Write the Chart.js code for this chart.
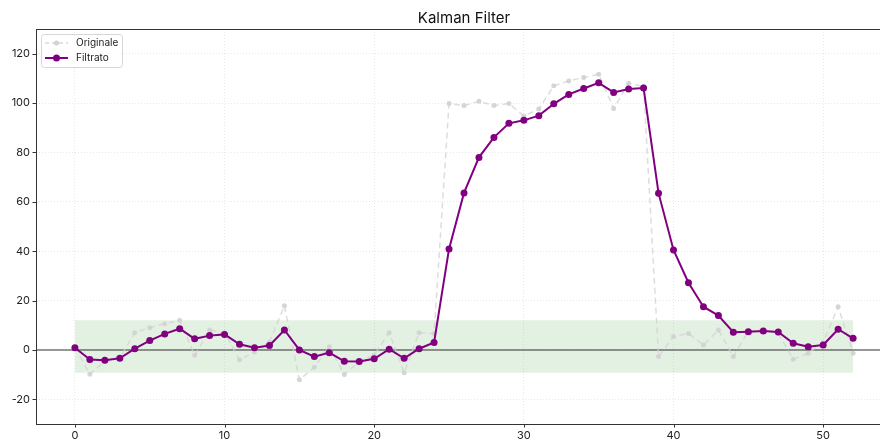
<!DOCTYPE html>
<html>
<head>
<meta charset="utf-8">
<script src="https://cdn.jsdelivr.net/npm/chart.js@4/dist/chart.umd.min.js"></script>
<style>
  html, body { margin: 0; padding: 0; overflow: hidden; background: #fff; }
  #wrap { width: 928px; height: 441px; }
</style>
</head>
<body>
<div id="wrap"><canvas id="canva"></canvas></div>
<script>
// step index
var steps = [0, 1, 2, 3, 4, 5, 6, 7, 8, 9, 10, 11, 12, 13, 14, 15, 16, 17, 18, 19, 20,
  21, 22, 23, 24, 25, 26, 27, 28, 29, 30, 31, 32, 33, 34, 35, 36, 37, 38, 39, 40,
  41, 42, 43, 44, 45, 46, 47, 48, 49, 50, 51, 52];
// measured signal
var originale = [1, -9.8, -4.6, -3.2, 7.0, 9.0, 10.6, 12.0, -2.2, 8.1, 7.0, -4.0, -0.8, 3.1,
  17.9, -12.1, -7.0, 1.3, -9.9, -4.8, -2.0, 7.0, -9.2, 7.0, 6.7, 99.8, 99.0, 100.7, 99.0,
  99.8, 94.7, 97.6, 107.0, 108.9, 110.4, 111.7, 97.8, 108.0, 106.7, -2.7, 5.4, 6.7, 2.0,
  8.1, -2.7, 7.7, 8.1, 6.7, -3.8, -1.3, 3.0, 17.5, -1.3];
// kalman output
var filtrato = [0.9, -3.9, -4.2, -3.4, 0.5, 3.8, 6.5, 8.6, 4.5, 5.8, 6.3, 2.3, 0.9, 1.8,
  8.1, 0.0, -2.7, -1.1, -4.6, -4.7, -3.6, 0.3, -3.4, 0.5, 3.0, 40.9, 63.6, 78.0, 86.1,
  91.8, 93.0, 94.9, 99.7, 103.5, 105.9, 108.2, 104.3, 105.7, 106.1, 63.5, 40.5, 27.2, 17.5,
  13.9, 7.2, 7.4, 7.7, 7.3, 2.7, 1.3, 2.0, 8.4, 4.7];
// tolerance band
var bandX = [0, 52];
var bandTop = 12;
var bandBottom = -9.2;
var xTicks = [0, 10, 20, 30, 40, 50];
var yTicks = [-20, 0, 20, 40, 60, 80, 100, 120];

var fontFam = "Inter, 'DejaVu Sans', sans-serif";

function pts(ys) {
  return ys.map(function (v, i) { return {x: steps[i], y: v}; });
}

var mplStuff = {
  id: 'mplStuff',
  afterDraw: function (chart) {
    var c = chart.ctx, a = chart.chartArea;
    var xs = chart.scales.x, ys = chart.scales.y;
    c.save();
    // frame
    c.strokeStyle = '#333';
    c.lineWidth = 1;
    c.strokeRect(a.left + 0.5, a.top + 0.5, a.right - a.left - 1, a.bottom - a.top);
    // tick marks
    c.beginPath();
    xTicks.forEach(function (t) {
      var px = Math.round(xs.getPixelForValue(t)) + 0.5;
      c.moveTo(px, a.bottom); c.lineTo(px, a.bottom + 3.5);
    });
    yTicks.forEach(function (t) {
      var py = Math.round(ys.getPixelForValue(t)) + 0.5;
      c.moveTo(a.left, py); c.lineTo(a.left - 3.5, py);
    });
    c.stroke();
    // legend
    var lx = 41.5, ly = 34.5, lw = 81, lh = 33;
    c.beginPath();
    c.roundRect(lx, ly, lw, lh, 3);
    c.fillStyle = 'rgba(255,255,255,0.8)';
    c.fill();
    c.strokeStyle = '#d6d6d6';
    c.lineWidth = 1;
    c.stroke();
    // Originale
    c.strokeStyle = 'rgba(205,205,205,0.8)';
    c.lineWidth = 1.5;
    c.setLineDash([4, 3]);
    c.beginPath(); c.moveTo(45, 43); c.lineTo(68, 43); c.stroke();
    c.setLineDash([]);
    c.fillStyle = 'rgba(205,205,205,0.9)';
    c.beginPath(); c.arc(56.5, 43, 2.5, 0, Math.PI * 2); c.fill();
    // Filtrato
    c.strokeStyle = '#800080';
    c.lineWidth = 2;
    c.beginPath(); c.moveTo(45, 58); c.lineTo(68, 58); c.stroke();
    c.fillStyle = '#800080';
    c.beginPath(); c.arc(56.5, 58, 3.5, 0, Math.PI * 2); c.fill();
    c.fillStyle = '#222';
    c.font = '10px ' + fontFam;
    c.textBaseline = 'middle';
    c.textAlign = 'left';
    c.fillText('Originale', 76, 43);
    c.fillText('Filtrato', 76, 58);
    c.restore();
  }
};

var ctx = document.getElementById('canva').getContext('2d');
var config = {
  type: 'line',
  data: {
    datasets: [{
      label: 'Filtrato',
      data: pts(filtrato),
      borderColor: '#800080',
      backgroundColor: '#800080',
      borderWidth: 2,
      pointRadius: 3.5,
      pointBorderWidth: 0,
      fill: false
    }, {
      label: 'Originale',
      data: pts(originale),
      borderColor: 'rgba(210,210,210,0.75)',
      backgroundColor: 'rgba(210,210,210,0.9)',
      borderWidth: 1.5,
      borderDash: [6, 4],
      pointRadius: 2.5,
      pointBorderWidth: 0,
      fill: false
    }, {
      label: 'zero',
      data: [{x: -2.6, y: 0}, {x: 54.6, y: 0}],
      borderColor: '#333',
      borderWidth: 1.1,
      pointRadius: 0,
      fill: false
    }, {
      label: 'band',
      data: bandX.map(function (x) { return {x: x, y: bandTop}; }),
      borderWidth: 0,
      borderColor: 'rgba(0,0,0,0)',
      backgroundColor: 'rgba(0,128,0,0.11)',
      pointRadius: 0,
      fill: '+1'
    }, {
      label: 'bandLow',
      data: bandX.map(function (x) { return {x: x, y: bandBottom}; }),
      borderWidth: 0,
      borderColor: 'rgba(0,0,0,0)',
      pointRadius: 0,
      fill: false
    }]
  },
  options: {
    responsive: true,
    maintainAspectRatio: false,
    animation: false,
    layout: { padding: 0 },
    scales: {
      x: {
        type: 'linear',
        min: -2.6,
        max: 54.6,
        afterBuildTicks: function (s) { s.ticks = xTicks.map(function (v) { return {value: v}; }); },
        afterFit: function (s) { s.height = 17; },
        grid: { color: '#e2e2e2', lineWidth: 0.8, drawTicks: false },
        border: { display: false, dash: [1, 2] },
        ticks: { padding: 5, color: '#222', font: { family: fontFam, size: 11 }, maxRotation: 0 }
      },
      y: {
        min: -30,
        max: 130,
        afterBuildTicks: function (s) { s.ticks = yTicks.map(function (v) { return {value: v}; }); },
        afterFit: function (s) { s.width = 36; },
        grid: { color: '#e2e2e2', lineWidth: 0.8, drawTicks: false },
        border: { display: false, dash: [1, 2] },
        ticks: { padding: 6, color: '#222', font: { family: fontFam, size: 11 } }
      },
      // empty right gutter so the title centres over the axes
      yRight: {
        position: 'right',
        min: -30,
        max: 130,
        afterFit: function (s) { s.width = 36; },
        grid: { display: false },
        border: { display: false },
        ticks: { display: false }
      }
    },
    plugins: {
      legend: { display: false },
      tooltip: { enabled: false },
      title: {
        display: true,
        text: 'Kalman Filter',
        color: '#111',
        font: { family: fontFam, size: 15, weight: 'normal' },
        padding: { top: 9, bottom: 2 }
      }
    }
  },
  plugins: [mplStuff]
};
new Chart(ctx, config);
</script>
</body>
</html>
